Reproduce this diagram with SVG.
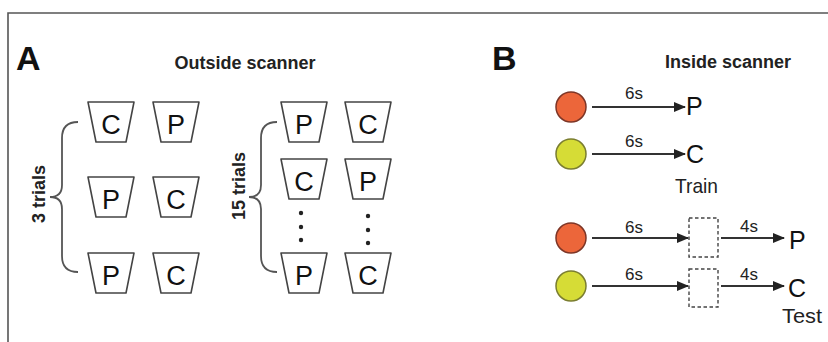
<svg xmlns="http://www.w3.org/2000/svg" width="828" height="342" viewBox="0 0 828 342">
  <style>
    .frame { fill: none; stroke: #555; stroke-width: 1.6; }
    .panel { font-family: "Liberation Sans", Arial, sans-serif; font-weight: bold; font-size: 34px; fill: #111; }
    .title { font-family: "Liberation Sans", Arial, sans-serif; font-weight: bold; font-size: 18px; fill: #222; text-anchor: middle; }
    .trials { font-family: "Liberation Sans", Arial, sans-serif; font-weight: bold; font-size: 18px; fill: #222; text-anchor: middle; }
    .cup { fill: #fff; stroke: #444; stroke-width: 1.6; stroke-linejoin: round; }
    .cuptext { font-family: "Liberation Sans", Arial, sans-serif; font-size: 27px; fill: #111; text-anchor: middle; }
    .brace { fill: none; stroke: #555; stroke-width: 1.8; }
    .dot { fill: #222; }
    .arrow { stroke: #333; stroke-width: 2; fill: none; marker-end: url(#head); }
    .dur { font-family: "Liberation Sans", Arial, sans-serif; font-size: 17px; fill: #222; text-anchor: middle; }
    .out { font-family: "Liberation Sans", Arial, sans-serif; font-size: 25px; fill: #111; }
    .phase { font-family: "Liberation Sans", Arial, sans-serif; font-size: 21px; fill: #222; }
    .red { fill: #ec663a; stroke: #7d3526; stroke-width: 1.5; }
    .yellow { fill: #d6dc36; stroke: #7a7d30; stroke-width: 1.5; }
    .blank { fill: #fff; stroke: #444; stroke-width: 1.4; stroke-dasharray: 3.5 2.5; }
  </style>
  <defs>
    <path id="cupShape" class="cup" d="M-23,0 L23,0 L15,40 L-15,40 Z"/>
    <marker id="head" markerUnits="userSpaceOnUse" markerWidth="12" markerHeight="10" refX="11" refY="5" orient="auto">
      <path d="M0,0 L12,5 L0,10 Z" fill="#222"/>
    </marker>
  </defs>

  <!-- panel frame -->
  <path class="frame" d="M8,342 L8,13 L828,13"/>

  <!-- panel A: outside scanner -->
  <text class="panel" x="16" y="70">A</text>
  <text class="title" x="245" y="69">Outside scanner</text>

  <g id="braces">
    <path class="brace" d="M78,122 Q62,122 62,138 L62,185 Q62,197 50,197 Q62,197 62,209 L62,256 Q62,272 78,272"/>
    <path class="brace" d="M277,122 Q261,122 261,138 L261,185 Q261,197 249,197 Q261,197 261,209 L261,256 Q261,272 277,272"/>
  </g>
  <text class="trials" transform="translate(45,194) rotate(-90)">3 trials</text>
  <text class="trials" transform="translate(245,186) rotate(-90)">15 trials</text>

  <!-- 3-trial block -->
  <g id="a-r1c1"><use href="#cupShape" x="111" y="102"/><text class="cuptext" x="111" y="134">C</text></g>
  <g id="a-r1c2"><use href="#cupShape" x="176" y="102"/><text class="cuptext" x="176" y="134">P</text></g>
  <g id="a-r2c1"><use href="#cupShape" x="111" y="177"/><text class="cuptext" x="111" y="209">P</text></g>
  <g id="a-r2c2"><use href="#cupShape" x="176" y="177"/><text class="cuptext" x="176" y="209">C</text></g>
  <g id="a-r3c1"><use href="#cupShape" x="111" y="253"/><text class="cuptext" x="111" y="285">P</text></g>
  <g id="a-r3c2"><use href="#cupShape" x="176" y="253"/><text class="cuptext" x="176" y="285">C</text></g>

  <!-- 15-trial block -->
  <g id="b-r1c1"><use href="#cupShape" x="304" y="102"/><text class="cuptext" x="304" y="134">P</text></g>
  <g id="b-r1c2"><use href="#cupShape" x="368" y="102"/><text class="cuptext" x="368" y="134">C</text></g>
  <g id="b-r2c1"><use href="#cupShape" x="304" y="159"/><text class="cuptext" x="304" y="191">C</text></g>
  <g id="b-r2c2"><use href="#cupShape" x="368" y="159"/><text class="cuptext" x="368" y="191">P</text></g>
  <g id="b-r3c1"><use href="#cupShape" x="304" y="253"/><text class="cuptext" x="304" y="285">P</text></g>
  <g id="b-r3c2"><use href="#cupShape" x="368" y="253"/><text class="cuptext" x="368" y="285">C</text></g>
  <g id="ellipsis">
    <circle class="dot" cx="301" cy="213" r="2.2"/>
    <circle class="dot" cx="301" cy="227" r="2.2"/>
    <circle class="dot" cx="301" cy="240" r="2.2"/>
    <circle class="dot" cx="368" cy="216" r="2.2"/>
    <circle class="dot" cx="368" cy="230" r="2.2"/>
    <circle class="dot" cx="368" cy="243" r="2.2"/>
  </g>

  <!-- panel B: inside scanner -->
  <text class="panel" x="492" y="70">B</text>
  <text class="title" x="728" y="68">Inside scanner</text>

  <g id="cue-train-red"><circle class="red" cx="571" cy="107" r="15"/></g>
  <g id="cue-train-yellow"><circle class="yellow" cx="571" cy="154" r="15"/></g>
  <g id="cue-test-red"><circle class="red" cx="571" cy="238" r="15"/></g>
  <g id="cue-test-yellow"><circle class="yellow" cx="571" cy="286" r="15"/></g>

  <g id="delay-red"><rect class="blank" x="689" y="218" width="29" height="39"/></g>
  <g id="delay-yellow"><rect class="blank" x="689" y="269" width="29" height="38"/></g>

  <g id="outcome-train-p"><text class="out" x="686" y="115">P</text></g>
  <g id="outcome-train-c"><text class="out" x="686" y="163">C</text></g>
  <g id="outcome-test-p"><text class="out" x="789" y="249">P</text></g>
  <g id="outcome-test-c"><text class="out" x="788" y="297">C</text></g>

  <g id="connectors">
    <line class="arrow" x1="592" y1="107" x2="685" y2="107"/>
    <line class="arrow" x1="592" y1="154" x2="685" y2="154"/>
    <line class="arrow" x1="592" y1="238" x2="688" y2="238"/>
    <line class="arrow" x1="592" y1="286" x2="688" y2="286"/>
    <line class="arrow" x1="721" y1="238" x2="784" y2="238"/>
    <line class="arrow" x1="721" y1="286" x2="784" y2="286"/>
  </g>
  <g id="durations">
    <text class="dur" x="634" y="99">6s</text>
    <text class="dur" x="634" y="147">6s</text>
    <text class="dur" x="634" y="233">6s</text>
    <text class="dur" x="634" y="280">6s</text>
    <text class="dur" x="749" y="232">4s</text>
    <text class="dur" x="749" y="280">4s</text>
  </g>
  <text class="phase" x="675" y="193" textLength="43" lengthAdjust="spacingAndGlyphs">Train</text>
  <text class="phase" x="782" y="323" textLength="40" lengthAdjust="spacingAndGlyphs">Test</text>
</svg>
